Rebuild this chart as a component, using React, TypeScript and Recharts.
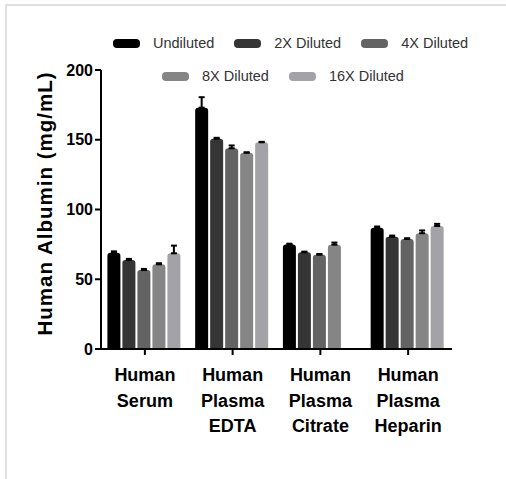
import React from 'react'
import { BarChart, Bar, XAxis, YAxis, ErrorBar, Legend, Label } from 'recharts'

const categories = [
	'Human Serum',
	'Human Plasma EDTA',
	'Human Plasma Citrate',
	'Human Plasma Heparin',
]
const seriesNames = ['Undiluted', '2X Diluted', '4X Diluted', '8X Diluted', '16X Diluted']
const seriesColors = ['#000000', '#353535', '#636363', '#858585', '#a3a3a7']

// mean values (mg/mL)
const undiluted = [69, 173, 75, 87]
const diluted2x = [63.8, 150.8, 69.3, 80.5]
const diluted4x = [56.6, 143.9, 67.6, 78.9]
const diluted8x = [60.7, 140.7, 74.8, 83]
const diluted16x = [68.6, 148.2, null, 88.2]

// upper error (SD)
const undilutedErr = [1, 7.5, 0.5, 0.8]
const diluted2xErr = [0.8, 0.6, 0.5, 0.8]
const diluted4xErr = [0.8, 2, 0.5, 0.5]
const diluted8xErr = [0.8, 0.3, 1.5, 2]
const diluted16xErr = [5.5, 0.3, null, 1.5]

const yTicks = [0, 50, 100, 150, 200]

const values = [undiluted, diluted2x, diluted4x, diluted8x, diluted16x]
const errors = [undilutedErr, diluted2xErr, diluted4xErr, diluted8xErr, diluted16xErr]

const data = categories.map((name, i) => {
	const row: Record<string, any> = { name }
	values.forEach((v, s) => {
		row[`s${s}`] = v[i]
		row[`e${s}`] = errors[s][i] == null ? null : [0, errors[s][i]]
	})
	return row
})

const FONT = '"Liberation Sans", Arial, sans-serif'

const CategoryTick = (props: any) => {
	const { x, y, payload } = props
	const lines = String(payload.value).split(' ')
	return (
		<g transform={`translate(${x},${y})`}>
			{lines.map((line, i) => (
				<text
					key={i}
					x={0}
					y={24 + i * 25.5}
					textAnchor="middle"
					fill="#000"
					fontSize={18}
					fontWeight="bold"
					fontFamily={FONT}
				>
					{line}
				</text>
			))}
		</g>
	)
}

const LegendContent = (props: any) => {
	// keep the series order (legend sorts by name otherwise)
	const items = [...(props.payload || [])].sort(
		(a: any, b: any) => seriesNames.indexOf(a.value) - seriesNames.indexOf(b.value)
	)
	const rows = [items.slice(0, 3), items.slice(3)]
	const starts = [113, 162]
	const tops = [33, 66]
	return (
		<div>
			{rows.map((row: any[], r: number) => (
				<div
					key={r}
					style={{
						position: 'absolute',
						top: tops[r],
						left: starts[r],
						display: 'flex',
						alignItems: 'center',
						height: 20,
						whiteSpace: 'nowrap',
					}}
				>
					{row.map((item: any) => (
						<div
							key={item.value}
							style={{ display: 'flex', alignItems: 'center', marginRight: 20 }}
						>
							<div
								style={{
									width: 27,
									height: 9,
									borderRadius: 4,
									backgroundColor: item.color,
									marginRight: 13,
								}}
							></div>
							<span style={{ fontSize: 14.5, color: '#333', fontFamily: FONT }}>
								{item.value}
							</span>
						</div>
					))}
				</div>
			))}
		</div>
	)
}

const YLabel = (props: any) => {
	const { viewBox } = props
	const cx = 52
	const cy = viewBox.y + viewBox.height / 2 - 6
	return (
		<text
			x={cx}
			y={cy}
			transform={`rotate(-90 ${cx} ${cy})`}
			textAnchor="middle"
			fill="#000"
			fontSize={20.5}
			fontWeight="bold"
			fontFamily={FONT}
			letterSpacing={1}
		>
			Human Albumin (mg/mL)
		</text>
	)
}

const App = () => {
	return (
		<div
			style={{
				position: 'absolute',
				top: 0,
				left: 0,
				width: 506,
				height: 479,
				overflow: 'hidden',
				background: '#fff',
			}}
		>
			<div
				style={{
					position: 'absolute',
					top: 4,
					left: 5,
					width: 520,
					height: 500,
					borderTop: '2px solid #e0e0e0',
					borderLeft: '2px solid #e0e0e0',
				}}
			></div>
			<div style={{ position: 'absolute', top: 0, left: 0 }}>
				<BarChart
					width={506}
					height={479}
					data={data}
					margin={{ top: 70, right: 54, left: 0, bottom: 70 }}
					barCategoryGap="7.3%"
					barGap={2}
				>
					<XAxis
						dataKey="name"
						interval={0}
						height={60}
						tick={<CategoryTick />}
						tickSize={6}
						axisLine={{ stroke: '#000', strokeWidth: 2 }}
						tickLine={{ stroke: '#000', strokeWidth: 2 }}
					/>
					<YAxis
						domain={[0, 200]}
						ticks={yTicks}
						width={101}
						tickSize={6}
						tickMargin={2}
						axisLine={{ stroke: '#000', strokeWidth: 2 }}
						tickLine={{ stroke: '#000', strokeWidth: 2 }}
						tick={{ fill: '#000', fontSize: 16, fontWeight: 'bold', fontFamily: FONT }}
					>
						<Label content={<YLabel />} />
					</YAxis>
					<Legend
						layout="horizontal"
						verticalAlign="middle"
						align="center"
						content={<LegendContent />}
						wrapperStyle={{ top: 0, left: 0, width: 506, height: 100 }}
					/>
					{seriesNames.map((n, i) => (
						<Bar
							key={n}
							dataKey={`s${i}`}
							name={n}
							fill={seriesColors[i]}
							radius={[3, 3, 0, 0]}
							isAnimationActive={false}
						>
							<ErrorBar
								dataKey={`e${i}`}
								width={3}
								strokeWidth={2}
								stroke="#000"
								direction="y"
							/>
						</Bar>
					))}
				</BarChart>
			</div>
		</div>
	)
}

export default App
